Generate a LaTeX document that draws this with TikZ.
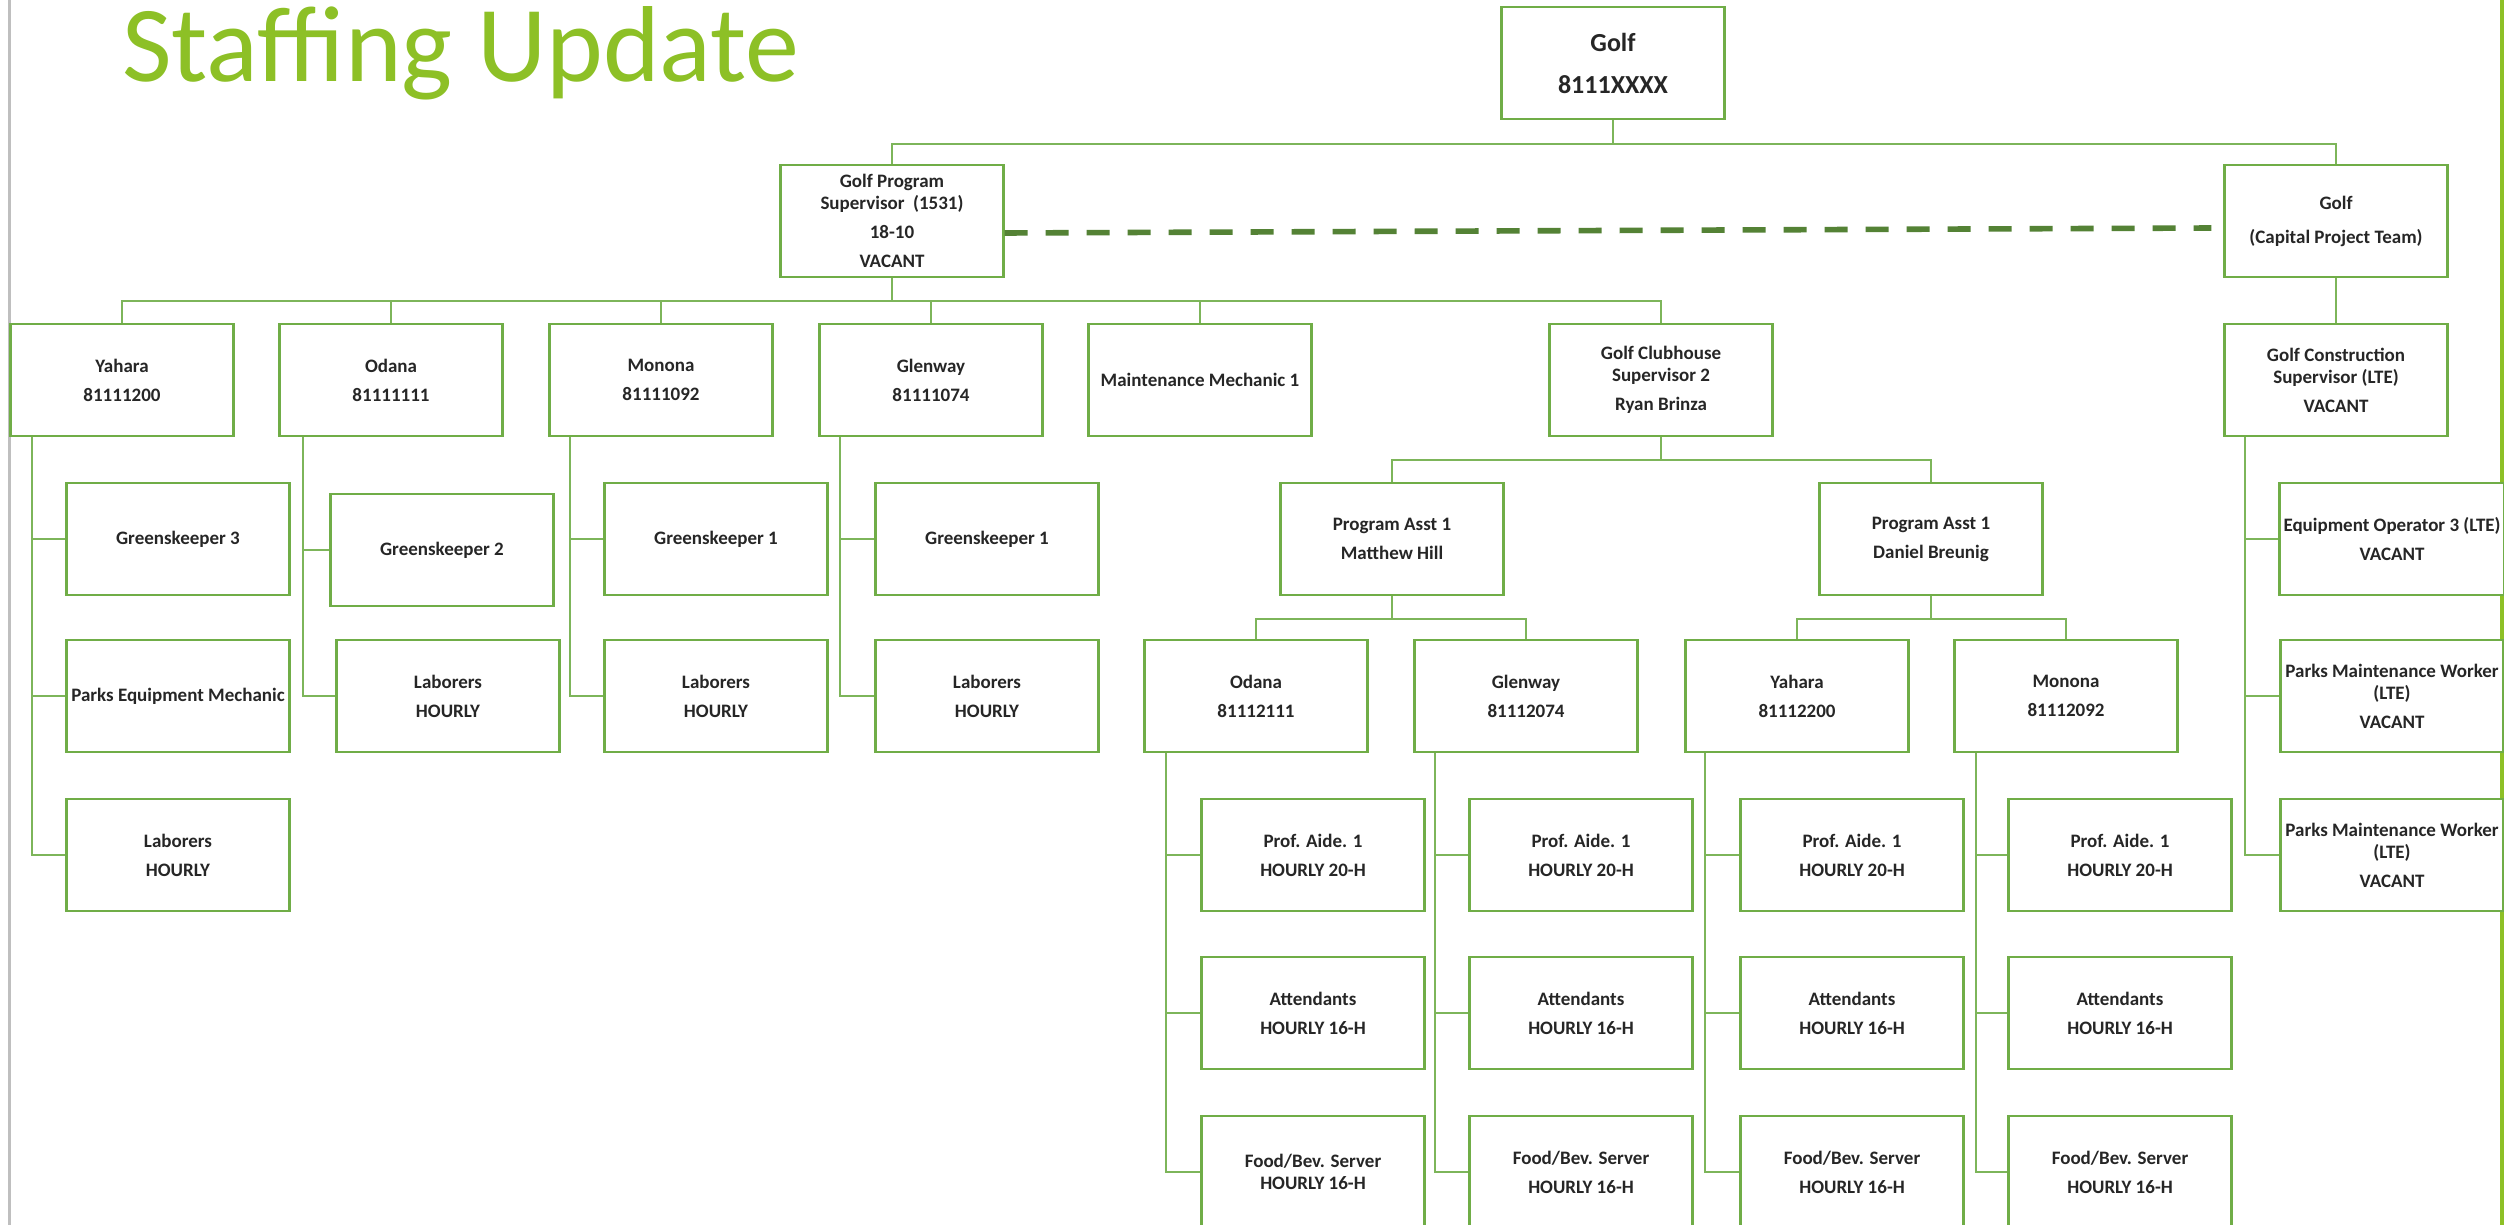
\documentclass[tikz,border=0pt]{standalone}
\usepackage{fontspec}
\setmainfont{Carlito}
\usetikzlibrary{positioning, calc}
\definecolor{ttlgreen}{HTML}{8DC026}
\definecolor{boxgreen}{HTML}{70AD47}
\definecolor{lnkgreen}{HTML}{7DB55A}
\definecolor{dkgreen}{HTML}{548235}
\definecolor{txtgray}{HTML}{262626}
\definecolor{edgegray}{HTML}{BFBFBF}

\begin{document}
\begin{tikzpicture}[
  x=0.5pt, y=-0.5pt,
  obox/.style={
    draw=boxgreen, line width=1.2pt, fill=white,
    minimum width=111.5pt, minimum height=56pt, inner sep=2pt,
    align=center, text=txtgray,
    font=\bfseries\fontsize{9.5}{11}\selectfont
  },
  link/.style={draw=lnkgreen, line width=1pt},
  dlink/.style={draw=dkgreen, line width=2.8pt, dash pattern=on 11.5pt off 9pt},
]

% Page
\useasboundingbox (0,0) rectangle (2504,1225);
\clip (0,0) rectangle (2504,1225);
\fill[white] (0,0) rectangle (2504,1225);
\draw[edgegray, line width=1.5pt] (9,0) -- (9,1225);
\draw[ttlgreen, line width=2pt] (2502,0) -- (2502,1225);

% Title
\node[font=\fontsize{54}{62}\selectfont, text=ttlgreen, anchor=base west, inner sep=0pt]
  (title) at (122,82) {Staffing Update};

% =============================================
% Top: Golf
% =============================================
\node[obox, font=\bfseries\fontsize{13}{15}\selectfont] (golf) at (1613,63)
  {Golf\\[6pt]8111XXXX};

\node[obox] (progsup) at (892,221)
  {Golf Program\\Supervisor\ \ (1531)\\[3.5pt]18-10\\[3.5pt]VACANT};
\node[obox] (capteam) at (2336,221)
  {Golf\\[6pt](Capital Project Team)};

% =============================================
% Second row
% =============================================
\node[obox] (yahara) at (122,380) {Yahara\\[3.5pt]81111200};
\node[obox] (odana) at (391,380) {Odana\\[3.5pt]81111111};
\node[obox] (monona) at (661,380) {Monona\\[3.5pt]81111092};
\node[obox] (glenway) at (931,380) {Glenway\\[3.5pt]81111074};
\node[obox] (maintmech) at (1200,380) {Maintenance Mechanic 1};
\node[obox] (clubsup) at (1661,380)
  {Golf Clubhouse\\Supervisor 2\\[3.5pt]Ryan Brinza};
\node[obox] (constsup) at (2336,380)
  {Golf Construction\\Supervisor (LTE)\\[3.5pt]VACANT};

% =============================================
% Courses: crews
% =============================================
\node[obox] (gk3) at (178,539) {Greenskeeper 3};
\node[obox] (pemech) at (178,696) {Parks Equipment Mechanic};
\node[obox] (yahlab) at (178,855) {Laborers\\[3.5pt]HOURLY};

\node[obox] (gk2) at (442,550) {Greenskeeper 2};
\node[obox] (odlab) at (448,696) {Laborers\\[3.5pt]HOURLY};

\node[obox] (monogk) at (716,539) {Greenskeeper 1};
\node[obox] (monolab) at (716,696) {Laborers\\[3.5pt]HOURLY};

\node[obox] (glengk) at (987,539) {Greenskeeper 1};
\node[obox] (glenlab) at (987,696) {Laborers\\[3.5pt]HOURLY};

% =============================================
% Clubhouse side
% =============================================
\node[obox] (pa-hill) at (1392,539) {Program Asst 1\\[3.5pt]Matthew Hill};
\node[obox] (pa-breunig) at (1931,539) {Program Asst 1\\[3.5pt]Daniel Breunig};

\node[obox] (c-odana) at (1256,696) {Odana\\[3.5pt]81112111};
\node[obox] (c-glenway) at (1526,696) {Glenway\\[3.5pt]81112074};
\node[obox] (c-yahara) at (1797,696) {Yahara\\[3.5pt]81112200};
\node[obox] (c-monona) at (2066,696) {Monona\\[3.5pt]81112092};

\node[obox] (aide-odana) at (1313,855) {Prof. Aide. 1\\[3.5pt]HOURLY 20-H};
\node[obox] (aide-glenway) at (1581,855) {Prof. Aide. 1\\[3.5pt]HOURLY 20-H};
\node[obox] (aide-yahara) at (1852,855) {Prof. Aide. 1\\[3.5pt]HOURLY 20-H};
\node[obox] (aide-monona) at (2120,855) {Prof. Aide. 1\\[3.5pt]HOURLY 20-H};

\node[obox] (att-odana) at (1313,1013) {Attendants\\[3.5pt]HOURLY 16-H};
\node[obox] (att-glenway) at (1581,1013) {Attendants\\[3.5pt]HOURLY 16-H};
\node[obox] (att-yahara) at (1852,1013) {Attendants\\[3.5pt]HOURLY 16-H};
\node[obox] (att-monona) at (2120,1013) {Attendants\\[3.5pt]HOURLY 16-H};

\node[obox] (food-odana) at (1313,1172) {Food/Bev. Server\\HOURLY 16-H};
\node[obox] (food-glenway) at (1581,1172) {Food/Bev. Server\\[3.5pt]HOURLY 16-H};
\node[obox] (food-yahara) at (1852,1172) {Food/Bev. Server\\[3.5pt]HOURLY 16-H};
\node[obox] (food-monona) at (2120,1172) {Food/Bev. Server\\[3.5pt]HOURLY 16-H};

% =============================================
% Capital project side
% =============================================
\node[obox] (eqop) at (2392,539) {Equipment Operator 3 (LTE)\\[3.5pt]VACANT};
\node[obox] (pmw-a) at (2392,696) {Parks Maintenance Worker\\(LTE)\\[3.5pt]VACANT};
\node[obox] (pmw-b) at (2392,855) {Parks Maintenance Worker\\(LTE)\\[3.5pt]VACANT};

% =============================================
% Connectors
% =============================================

% Golf -> two heads
\draw[link] (golf.south) -- ++(0,24) -| (progsup.north);
\draw[link] (golf.south) -- ++(0,24) -| (capteam.north);

% dotted-line relation
\draw[dlink] ([yshift=-6pt]progsup.east) -- ([xshift=-6pt, yshift=-3.5pt]capteam.west);

% Program supervisor -> second row
\draw[link] (progsup.south) -- ++(0,23) -| (yahara.north);
\draw[link] (progsup.south) -- ++(0,23) -| (odana.north);
\draw[link] (progsup.south) -- ++(0,23) -| (monona.north);
\draw[link] (progsup.south) -- ++(0,23) -| (glenway.north);
\draw[link] (progsup.south) -- ++(0,23) -| (maintmech.north);
\draw[link] (progsup.south) -- ++(0,23) -| (clubsup.north);

\draw[link] (capteam.south) -- (constsup.north);

% course crews (side trunks)
\draw[link] ($(yahara.south west)+(23,0)$) |- (gk3.west);
\draw[link] ($(yahara.south west)+(23,0)$) |- (pemech.west);
\draw[link] ($(yahara.south west)+(23,0)$) |- (yahlab.west);
\draw[link] ($(odana.south west)+(25,0)$) |- (gk2.west);
\draw[link] ($(odana.south west)+(25,0)$) |- (odlab.west);
\draw[link] ($(monona.south west)+(22,0)$) |- (monogk.west);
\draw[link] ($(monona.south west)+(22,0)$) |- (monolab.west);
\draw[link] ($(glenway.south west)+(22,0)$) |- (glengk.west);
\draw[link] ($(glenway.south west)+(22,0)$) |- (glenlab.west);

% clubhouse tree
\draw[link] (clubsup.south) -- ++(0,23) -| (pa-hill.north);
\draw[link] (clubsup.south) -- ++(0,23) -| (pa-breunig.north);
\draw[link] (pa-hill.south) -- ++(0,23) -| (c-odana.north);
\draw[link] (pa-hill.south) -- ++(0,23) -| (c-glenway.north);
\draw[link] (pa-breunig.south) -- ++(0,23) -| (c-yahara.north);
\draw[link] (pa-breunig.south) -- ++(0,23) -| (c-monona.north);

\draw[link] ($(c-odana.south west)+(23,0)$) |- (aide-odana.west);
\draw[link] ($(c-odana.south west)+(23,0)$) |- (att-odana.west);
\draw[link] ($(c-odana.south west)+(23,0)$) |- (food-odana.west);
\draw[link] ($(c-glenway.south west)+(22,0)$) |- (aide-glenway.west);
\draw[link] ($(c-glenway.south west)+(22,0)$) |- (att-glenway.west);
\draw[link] ($(c-glenway.south west)+(22,0)$) |- (food-glenway.west);
\draw[link] ($(c-yahara.south west)+(21,0)$) |- (aide-yahara.west);
\draw[link] ($(c-yahara.south west)+(21,0)$) |- (att-yahara.west);
\draw[link] ($(c-yahara.south west)+(21,0)$) |- (food-yahara.west);
\draw[link] ($(c-monona.south west)+(23,0)$) |- (aide-monona.west);
\draw[link] ($(c-monona.south west)+(23,0)$) |- (att-monona.west);
\draw[link] ($(c-monona.south west)+(23,0)$) |- (food-monona.west);

% construction crew
\draw[link] ($(constsup.south west)+(22,0)$) |- (eqop.west);
\draw[link] ($(constsup.south west)+(22,0)$) |- (pmw-a.west);
\draw[link] ($(constsup.south west)+(22,0)$) |- (pmw-b.west);

\end{tikzpicture}
\end{document}
